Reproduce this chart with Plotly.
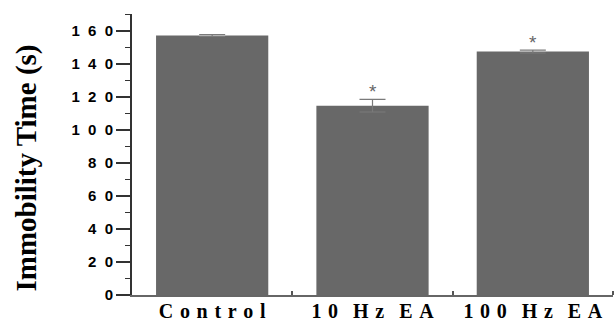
import plotly.graph_objects as go

categories = ["Control", "10 Hz EA", "100 Hz EA"]
means = [157.0, 114.5, 147.3]
errors = [0.6, 3.8, 0.9]
significant = [False, True, True]
y_ticks = [0, 20, 40, 60, 80, 100, 120, 140, 160]
y_title = "Immobility Time (s)"

NB = "\u00a0"
HS = "\u200a"


def spaced(s, gap, word_gap):
    out = ""
    for i, ch in enumerate(s):
        if ch == " ":
            continue
        if out:
            out += word_gap if s[i - 1] == " " else gap
        out += ch
    return out


x_labels = [spaced(c, NB + HS, NB * 3) for c in categories]
y_ticktext = [spaced(str(v), NB * 2, NB) for v in y_ticks]

xs = list(range(len(categories)))

fig = go.Figure()
fig.add_trace(go.Bar(
    x=xs, y=means, width=0.7,
    marker=dict(color="#686868", line=dict(width=0)),
    error_y=dict(type="data", array=errors, visible=True, color="#7a7a7a",
                 thickness=1.2, width=13),
))

for x, m, e, s in zip(xs, means, errors, significant):
    if s:
        fig.add_annotation(x=x, y=m + e, text="*", showarrow=False, yanchor="bottom",
                           yshift=-5, font=dict(family="Liberation Sans", size=19, color="#666"))

fig.add_annotation(text=y_title, xref="paper", yref="paper", x=0, y=0.45,
                   xanchor="center", yanchor="middle", xshift=-105, textangle=-90,
                   showarrow=False,
                   font=dict(family="Liberation Serif", size=29, color="black", weight="bold"))

fig.update_layout(
    width=615, height=324,
    margin=dict(l=132, r=2, t=14, b=29),
    plot_bgcolor="white", paper_bgcolor="white",
    showlegend=False,
    bargap=0.3,
)
fig.update_xaxes(
    range=[-0.5, 2.5], tickvals=xs, ticktext=x_labels, ticks="", showgrid=False,
    showline=True, linecolor="#666", linewidth=1.5, zeroline=False, automargin=False,
    ticklabelstandoff=-3,
    tickfont=dict(family="Liberation Serif", size=20, color="black", weight="bold"),
    minor=dict(tickvals=[0.5, 1.5, 2.5], ticks="inside", ticklen=4, tickcolor="#555", tickwidth=1.5),
)
fig.update_yaxes(
    range=[0, 170], tickvals=y_ticks, ticktext=y_ticktext, ticks="outside", ticklen=14,
    tickwidth=1.5, tickcolor="#333", showgrid=False, zeroline=False, automargin=False,
    showline=True, linecolor="#333", linewidth=1.8,
    tickfont=dict(family="Liberation Sans", size=15, color="black", weight="bold"),
    minor=dict(dtick=10, tick0=0, ticks="outside", ticklen=5, tickcolor="#333", tickwidth=1.2),
)

fig.write_html("out.html")
